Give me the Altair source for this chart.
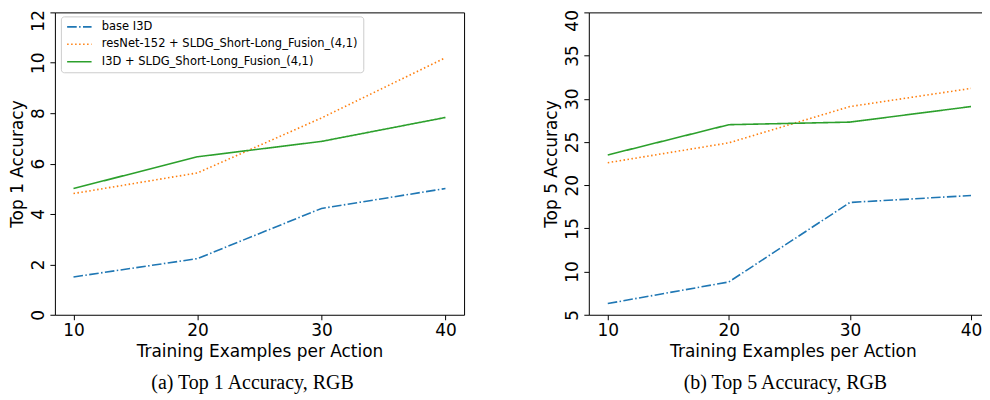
import altair as alt
import pandas as pd

# ---------------- data ----------------
x_vals = [10, 20, 30, 40]
series_names = [
    "base I3D",
    "resNet-152 + SLDG_Short-Long_Fusion_(4,1)",
    "I3D + SLDG_Short-Long_Fusion_(4,1)",
]
top1_base = [1.50, 2.23, 4.22, 5.01]
top1_resnet = [4.81, 5.63, 7.81, 10.20]
top1_i3d = [5.01, 6.27, 6.88, 7.83]

top5_base = [6.3, 8.8, 18.0, 18.8]
top5_resnet = [22.6, 24.9, 29.1, 31.2]
top5_i3d = [23.5, 27.0, 27.3, 29.1]

top1_ticks = [0, 2, 4, 6, 8, 10, 12]
top5_ticks = [5, 10, 15, 20, 25, 30, 35, 40]

colors = ["#1f77b4", "#ff7f0e", "#2ca02c"]
dashes = [[9.6, 2.4, 1.5, 2.4], [1.5, 2.5], [1, 0]]

LEGEND_FONT_SIZE = 11.5
PLOT_H = 303


def make_df(series_values):
    rows = []
    for name, vals in zip(series_names, series_values):
        for xv, yv in zip(x_vals, vals):
            rows.append({"x": xv, "y": yv, "series": name})
    return pd.DataFrame(rows)


def legend():
    return alt.Legend(
        title=None,
        orient="none",
        legendX=6,
        legendY=4,
        strokeColor="#cccccc",
        fillColor="rgba(255,255,255,0.85)",
        cornerRadius=3,
        padding=5,
        symbolType="stroke",
        symbolSize=600,
        symbolStrokeWidth=1.6,
        labelFont="DejaVu Sans",
        labelFontSize=LEGEND_FONT_SIZE,
        labelColor="black",
        labelLimit=600,
        labelOffset=9,
        rowPadding=5.5,
        clipHeight=11,
    )


def panel(series_values, ytitle, ydomain, yticks, top_tick, xdomain, width,
          xtitle_x, caption, cap_dx):
    df = make_df(series_values)
    return (
        alt.Chart(df)
        .mark_line(strokeWidth=1.6, strokeCap="butt", clip=True)
        .encode(
            x=alt.X(
                "x:Q",
                scale=alt.Scale(domain=xdomain, nice=False, zero=False),
                axis=alt.Axis(
                    values=x_vals,
                    format="d",
                    title="Training Examples per Action",
                    labelPadding=3,
                    titleBaseline="top",
                    titleAlign="center",
                    titleX=xtitle_x,
                    titleY=29,
                ),
            ),
            y=alt.Y(
                "y:Q",
                scale=alt.Scale(domain=ydomain, nice=False, zero=False),
                axis=alt.Axis(
                    values=yticks,
                    format="d",
                    title=ytitle,
                    labelAngle=270,
                    labelAlign="center",
                    labelBaseline="bottom",
                    labelPadding=2,
                    labelOffset={
                        "condition": {"test": f"datum.value == {top_tick}", "value": 8},
                        "value": 0,
                    },
                    titleAngle=270,
                    titleBaseline="top",
                    titleAlign="center",
                    titleX=-45,
                    titleY=PLOT_H / 2,
                ),
            ),
            color=alt.Color(
                "series:N",
                sort=series_names,
                scale=alt.Scale(domain=series_names, range=colors),
                legend=legend(),
            ),
            strokeDash=alt.StrokeDash(
                "series:N",
                sort=series_names,
                scale=alt.Scale(domain=series_names, range=dashes),
                legend=legend(),
            ),
        )
        .properties(
            width=width,
            height=PLOT_H,
            title=alt.TitleParams(
                caption,
                orient="bottom",
                anchor="middle",
                frame="group",
                dx=cap_dx,
                offset=13,
            ),
        )
    )


left = panel(
    [top1_base, top1_resnet, top1_i3d],
    "Top 1 Accuracy",
    [0, 12],
    top1_ticks,
    12,
    [8.5, 41.5],
    410,
    205,
    "(a) Top 1 Accuracy, RGB",
    -7,
)
right = panel(
    [top5_base, top5_resnet, top5_i3d],
    "Top 5 Accuracy",
    [5, 40],
    top5_ticks,
    40,
    [8.434, 41.65],
    403,
    204.5,
    "(b) Top 5 Accuracy, RGB",
    -4.5,
)

chart = (
    alt.hconcat(left, right, spacing=125, bounds="flush")
    .properties(padding={"left": 0, "top": 0, "right": -10, "bottom": 0})
    .configure_view(stroke="black", strokeWidth=1)
    .configure_axis(
        domain=False,
        grid=False,
        ticks=True,
        tickColor="black",
        tickSize=5,
        labelFont="DejaVu Sans",
        labelFontSize=17,
        labelColor="black",
        titleFont="DejaVu Sans",
        titleFontSize=17,
        titleFontWeight="normal",
        titleColor="black",
    )
    .configure_legend(
        labelFont="DejaVu Sans",
        labelFontSize=LEGEND_FONT_SIZE,
        labelColor="black",
    )
    .configure_title(
        font="Liberation Serif",
        fontSize=20,
        fontWeight="normal",
        color="black",
    )
)

chart.save("out.html", embed_options={"renderer": "svg", "actions": False})
